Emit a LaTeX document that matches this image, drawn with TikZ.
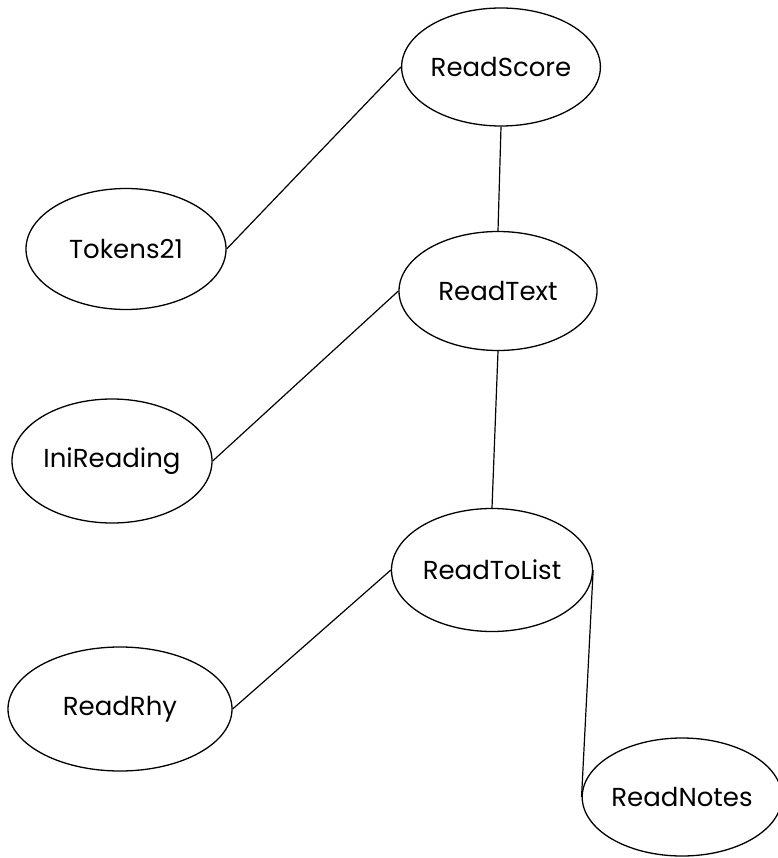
\documentclass[tikz,border=0pt]{standalone}
\usepackage{fontspec}
\setmainfont{Poppins}
\usetikzlibrary{shapes.geometric}
\begin{document}
\begin{tikzpicture}[x=1pt,y=-1pt,
  ell/.style={draw, ellipse, line width=1.3pt, inner sep=0pt, font=\fontsize{26}{30}\selectfont},
  conn/.style={line width=1.2pt}]
\useasboundingbox (0,0) rectangle (777,858);
\node[ell, minimum width=198pt, minimum height=118pt] (rs) at (501,67) {ReadScore};
\node[ell, minimum width=200pt, minimum height=121pt] (tk) at (126,249) {Tokens21};
\node[ell, minimum width=198pt, minimum height=119pt] (rt) at (498,291) {ReadText};
\node[ell, minimum width=200pt, minimum height=124pt] (ir) at (112,461) {IniReading};
\node[ell, minimum width=201pt, minimum height=123pt] (rl) at (492,570) {ReadToList};
\node[ell, minimum width=224pt, minimum height=124pt] (rr) at (120,709) {ReadRhy};
\node[ell, minimum width=188pt, minimum height=118pt] (rn) at (682,797) {ReadNotes};
\draw[conn] (rs.west) -- (tk.east);
\draw[conn] (rs.south) -- (rt.north);
\draw[conn] (rt.west) -- (ir.east);
\draw[conn] (rt.south) -- (rl.north);
\draw[conn] (rl.west) -- (rr.east);
\draw[conn] (rl.east) -- (rn.west);
\end{tikzpicture}
\end{document}
